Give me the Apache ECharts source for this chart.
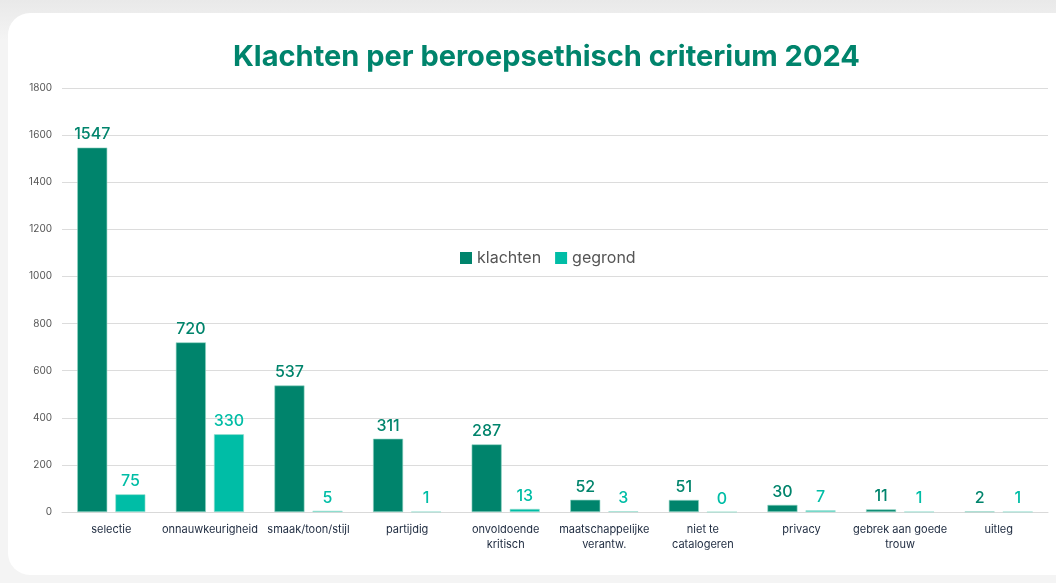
<!DOCTYPE html>
<html lang="nl">
<head>
<meta charset="UTF-8">
<title>Klachten per beroepsethisch criterium 2024</title>
<script src="https://cdn.jsdelivr.net/npm/echarts@6/dist/echarts.min.js"></script>
<style>
  html, body { margin: 0; padding: 0; width: 1056px; height: 583px; overflow: hidden;
    background: linear-gradient(#e9e9e9, #f4f4f4 40px, #f4f4f4); }
  #card { position: absolute; left: 8px; top: 13px; width: 1070px; height: 562px;
    background: #fff; border-radius: 22px; }
  #main { position: absolute; left: 0; top: 0; width: 1056px; height: 583px; }
</style>
</head>
<body>
<div id="card"></div>
<div id="main"></div>
<script>
    var categories = ['selectie', 'onnauwkeurigheid', 'smaak/toon/stijl', 'partijdig',
        'onvoldoende\nkritisch', 'maatschappelijke\nverantw.', 'niet te\ncatalogeren',
        'privacy', 'gebrek aan goede\ntrouw', 'uitleg'];
    var klachten = [1547, 720, 537, 311, 287, 52, 51, 30, 11, 2];
    var gegrond = [75, 330, 5, 1, 13, 3, 0, 7, 1, 1];

    var darkGreen = '#00846c';
    var teal = '#00bda6';

    var myCharts = echarts.init(document.getElementById('main'));
    var option = {
        title: {
            text: 'Klachten per beroepsethisch criterium 2024',
            left: 228,
            top: 38,
            textStyle: {
                fontFamily: 'Inter',
                fontWeight: 'bold',
                fontSize: 29,
                color: darkGreen
            }
        },
        legend: {
            left: 455,
            top: 245,
            itemWidth: 12,
            itemHeight: 12,
            itemGap: 14,
            icon: 'rect',
            itemStyle: { borderWidth: 0 },
            textStyle: { fontFamily: 'Inter', fontSize: 16, color: '#555' },
            data: ['klachten', 'gegrond']
        },
        grid: { left: 62, right: 8, top: 88, bottom: 71 },
        xAxis: {
            type: 'category',
            data: categories,
            axisLine: { lineStyle: { color: '#d9d9d9' } },
            axisTick: { show: false },
            axisLabel: {
                interval: 0,
                margin: 10,
                fontFamily: 'Inter',
                fontSize: 11,
                lineHeight: 15,
                color: '#1d2a3f'
            }
        },
        yAxis: {
            type: 'value',
            min: 0,
            max: 1800,
            interval: 200,
            axisLine: { show: false },
            axisTick: { show: false },
            splitLine: { lineStyle: { color: '#dcdcdc' } },
            axisLabel: {
                fontFamily: 'Inter', fontSize: 10, color: '#555', margin: 10,
                formatter: function (v) { return String(v); }
            }
        },
        series: [
            {
                name: 'klachten',
                type: 'bar',
                data: klachten,
                barWidth: 30,
                barGap: '27%',
                itemStyle: { color: darkGreen, borderColor: '#8fd3c3', borderWidth: 0.6 },
                label: {
                    show: true,
                    position: 'top',
                    distance: 5,
                    fontFamily: 'Inter',
                    fontWeight: 500,
                    fontSize: 16,
                    color: darkGreen
                }
            },
            {
                name: 'gegrond',
                type: 'bar',
                data: gegrond,
                barWidth: 30,
                itemStyle: { color: teal, borderColor: '#9ee0d2', borderWidth: 0.6 },
                label: {
                    show: true,
                    position: 'top',
                    distance: 5,
                    fontFamily: 'Inter',
                    fontWeight: 500,
                    fontSize: 16,
                    color: teal
                }
            }
        ]
    };
    myCharts.setOption(option);
</script>
</body>
</html>
